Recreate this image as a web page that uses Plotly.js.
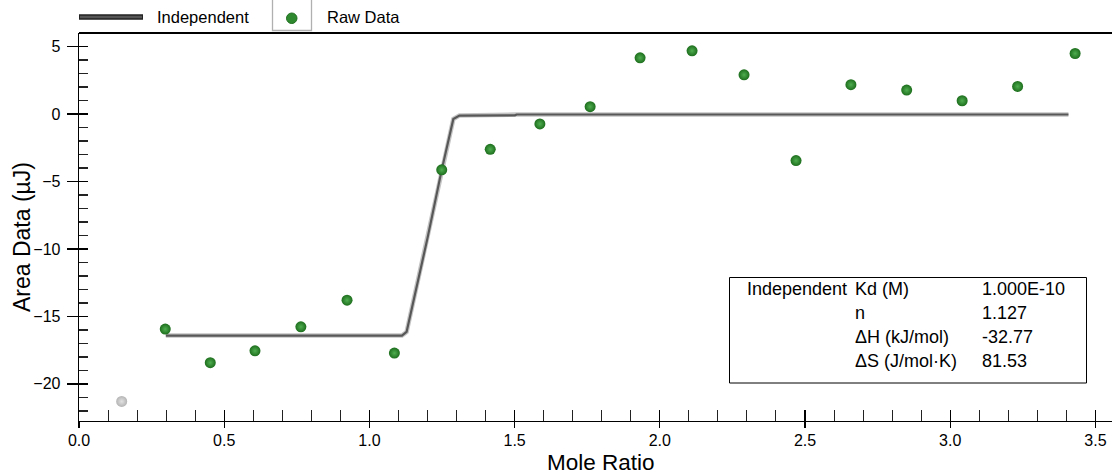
<!DOCTYPE html>
<html>
<head>
<meta charset="utf-8">
<script src="https://cdn.plot.ly/plotly-3.0.1.min.js"></script>
<style>
html,body{margin:0;padding:0;background:#fff;}
#chart{width:1112px;height:475px;}
</style>
</head>
<body>
<div id="chart"></div>
<script>
// ---- data ----
const rawX = [0.297, 0.452, 0.606, 0.764, 0.923, 1.086, 1.249, 1.416, 1.587, 1.760, 1.932, 2.111, 2.290, 2.469, 2.658, 2.850, 3.041, 3.232, 3.430];
const rawY = [-15.94, -18.43, -17.55, -15.77, -13.80, -17.72, -4.14, -2.62, -0.74, 0.54, 4.16, 4.68, 2.90, -3.45, 2.17, 1.77, 0.98, 2.04, 4.48];
const excludedX = [0.147];
const excludedY = [-21.3];
const fitX = [0.299, 1.112, 1.128, 1.20, 1.249, 1.289, 1.310, 1.501, 1.507, 3.407];
const fitY = [-16.42, -16.42, -16.15, -9.2, -4.14, -0.37, -0.12, -0.10, -0.04, -0.04];
const xTitle = "Mole Ratio";
const yTitle = "Area Data (µJ)";
const legendNames = ["Independent", "Raw Data"];
const tableCol1 = ["Independent", "", "", ""];
const tableCol2 = ["Kd (M)", "n", "ΔH (kJ/mol)", "ΔS (J/mol·K)"];
const tableCol3 = ["1.000E-10", "1.127", "-32.77", "81.53"];

// ---- geometry helpers (pixel -> paper) ----
const W = 1112, H = 475, L = 79, R = 1112, T = 33, B = 421;
const px = v => (v - L) / (R - L);
const py = v => (B - v) / (B - T);
const FONT = "Liberation Sans, Arial, sans-serif";

const traces = [
  {x: fitX, y: fitY, mode: 'lines', line: {color: '#c4c4c4', width: 4.5}, hoverinfo: 'skip', showlegend: false},
  {x: fitX, y: fitY, mode: 'lines', name: legendNames[0], line: {color: '#585858', width: 2.2}, showlegend: false},
  {x: excludedX, y: excludedY, mode: 'markers', showlegend: false,
   marker: {size: 11, color: '#b4b4b4', gradient: {type: 'radial', color: '#e2e2e2'}, line: {width: 0}}},
  {x: rawX, y: rawY, mode: 'markers', name: legendNames[1], showlegend: false,
   marker: {size: 11, color: '#1d6e1d', gradient: {type: 'radial', color: '#4fae4f'}, line: {width: 0}}}
];

const tableRows = [288.5, 312.5, 336.5, 360.5];
const annotations = [];
tableRows.forEach((r, i) => {
  [[745, tableCol1[i]], [853, tableCol2[i]], [980, tableCol3[i]]].forEach(([c, t]) => {
    if (t) annotations.push({xref: 'paper', yref: 'paper', x: px(c), y: py(r), xanchor: 'left', yanchor: 'middle',
      text: t, showarrow: false, font: {family: FONT, size: 18, color: '#000'}});
  });
});
annotations.push({xref: 'paper', yref: 'paper', x: px(601), y: py(462), xanchor: 'center', yanchor: 'middle',
  text: xTitle, showarrow: false, font: {family: FONT, size: 22.5, color: '#000'}});
annotations.push({xref: 'paper', yref: 'paper', x: px(22), y: py(237), xanchor: 'center', yanchor: 'middle',
  text: yTitle, textangle: -90, showarrow: false, font: {family: FONT, size: 23, color: '#000'}});
annotations.push({xref: 'paper', yref: 'paper', x: px(155), y: py(17), xanchor: 'left', yanchor: 'middle',
  text: legendNames[0], showarrow: false, font: {family: FONT, size: 16.5, color: '#000'}});
annotations.push({xref: 'paper', yref: 'paper', x: px(325), y: py(17), xanchor: 'left', yanchor: 'middle',
  text: legendNames[1], showarrow: false, font: {family: FONT, size: 16.5, color: '#000'}});

const shapes = [
  // top frame line
  {type: 'line', xref: 'paper', yref: 'paper', x0: 0, x1: 1, y0: 1, y1: 1, line: {color: '#000', width: 2}},
  // table box
  {type: 'rect', xref: 'paper', yref: 'paper', x0: px(729.5), x1: px(1086.5), y0: py(383), y1: py(277.5),
   line: {color: '#000', width: 1}, fillcolor: 'rgba(0,0,0,0)'},
  // legend line sample
  {type: 'line', xref: 'paper', yref: 'paper', x0: px(79), x1: px(143), y0: py(17), y1: py(17), line: {color: '#222', width: 5.5}},
  {type: 'line', xref: 'paper', yref: 'paper', x0: px(80), x1: px(142), y0: py(17), y1: py(17), line: {color: '#555', width: 2.5}},
  // legend marker box
  {type: 'path', xref: 'paper', yref: 'paper',
   path: `M ${px(272.5)} ${py(0)} L ${px(272.5)} ${py(30.5)} L ${px(311.5)} ${py(30.5)} L ${px(311.5)} ${py(0)}`,
   line: {color: '#b0b0b0', width: 1.3}},
  {type: 'circle', xref: 'paper', yref: 'paper', x0: px(286.5), x1: px(297), y0: py(23.5), y1: py(13),
   fillcolor: '#2f8a2f', line: {color: '#1f6e1f', width: 1}}
];

const layout = {
  width: W, height: H,
  margin: {l: L, r: W - R, t: T, b: H - B, pad: 0},
  paper_bgcolor: '#fff', plot_bgcolor: '#fff',
  font: {family: FONT, size: 16, color: '#000'},
  showlegend: false,
  xaxis: {
    range: [0, 3.557], showgrid: false, zeroline: false, showline: true, linecolor: '#000', linewidth: 1.3,
    ticks: 'inside', ticklen: 11, tickwidth: 1.3, tickcolor: '#000', dtick: 0.5, tick0: 0, tickformat: '.1f',
    ticklabelstandoff: 4,
    minor: {ticks: 'inside', dtick: 0.1, ticklen: 11, tickwidth: 1, tickcolor: '#222'},
    tickfont: {family: FONT, size: 16, color: '#000'}, fixedrange: true
  },
  xaxis2: {
    overlaying: 'x', anchor: 'y', side: 'bottom', range: [0, 3.557], showgrid: false, zeroline: false, showline: false,
    ticks: 'outside', ticklen: 6, tickwidth: 1.3, tickcolor: '#000', dtick: 0.5, tick0: 0, showticklabels: false
  },
  yaxis: {
    range: [-22.75, 6], showgrid: false, zeroline: false, showline: true, linecolor: '#000', linewidth: 1.3,
    ticks: 'inside', ticklen: 9, tickwidth: 1.3, tickcolor: '#000', dtick: 5, tick0: 0,
    ticklabelstandoff: 14,
    minor: {ticks: 'inside', dtick: 1, ticklen: 9, tickwidth: 1.3, tickcolor: '#222'},
    tickfont: {family: FONT, size: 16, color: '#000'}, fixedrange: true
  },
  yaxis2: {
    overlaying: 'y', anchor: 'x', side: 'left', range: [-22.75, 6], showgrid: false, zeroline: false, showline: false,
    ticks: 'outside', ticklen: 11, tickwidth: 1.3, tickcolor: '#000', dtick: 5, tick0: 0, showticklabels: false
  },
  shapes: shapes,
  annotations: annotations
};

// dummy trace to activate overlay axes for crossing ticks
traces.push({x: [], y: [], xaxis: 'x2', yaxis: 'y2', mode: 'markers', showlegend: false, hoverinfo: 'skip'});

Plotly.newPlot('chart', traces, layout, {displayModeBar: false, staticPlot: true});
</script>
</body>
</html>
